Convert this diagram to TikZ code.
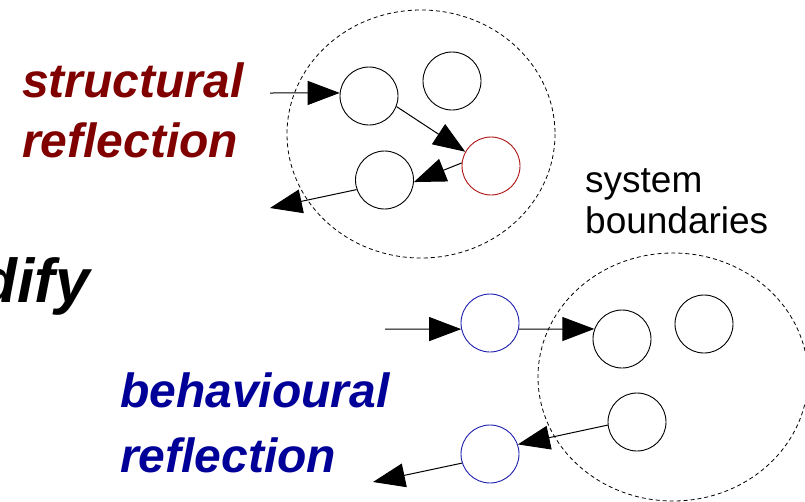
\documentclass[tikz,border=0pt]{standalone}
\usepackage{fontspec}
\setmainfont{Liberation Sans}
\usetikzlibrary{arrows.meta}
\definecolor{structred}{RGB}{128,0,0}
\definecolor{behavblue}{RGB}{0,0,153}
\definecolor{metared}{RGB}{175,20,20}
\definecolor{metablue}{RGB}{30,30,175}
\tikzset{
  obj/.style={circle,draw,line width=0.9pt,minimum size=58pt,inner sep=0pt},
  metaobj/.style={obj,draw=#1},
  link/.style={line width=1pt,-{Triangle[length=32pt,width=24pt]}},
  boundary/.style={line width=0.8pt,dash pattern=on 4pt off 3pt},
  label/.style={anchor=base west,inner sep=0pt,font=\fontsize{48}{58}\selectfont\bfseries\itshape},
  note/.style={anchor=base west,inner sep=0pt,font=\fontsize{37}{42}\selectfont},
}
\begin{document}
\begin{tikzpicture}[x=1pt,y=-1pt]
\useasboundingbox (0,0) rectangle (805,501);

% system boundaries
\draw[boundary] (421,134) ellipse [x radius=134, y radius=124];
\draw[boundary] (673,377) ellipse [x radius=135, y radius=124];

% structural reflection: objects
\node[obj] (A) at (369,96) {};
\node[obj] (B) at (452,81) {};
\node[metaobj=metared] (R) at (491,166) {};
\node[obj] (C) at (384.5,180) {};
\coordinate (inS) at (270,93);
\coordinate (outS) at (270,208);
\draw[link] (inS) -- (A.174);
\draw[link] (A.-21) -- (R.151);
\draw[link] (R.174) -- (C.-4);
\draw[link] (C.199) -- (outS);

% behavioural reflection: objects
\node[metaobj=metablue] (B1) at (490,323) {};
\node[metaobj=metablue] (B2) at (490,454) {};
\node[obj] (D) at (622,339) {};
\node[obj] (E) at (704,324) {};
\node[obj] (F) at (637,422) {};
\coordinate (inB) at (385,329);
\coordinate (outB) at (373,482);
\draw[link] (inB) -- (B1.192);
\draw[link] (B1.-12) -- (D.160);
\draw[link] (F.186) -- (B2.19);
\draw[link] (B2.198) -- (outB);

% labels
\node[label,text=structred] (s1) at (22,97) {structural};
\node[label,text=structred] (s2) at (22,157) {reflection};
\node[label,text=behavblue] (b1) at (120,407) {behavioural};
\node[label,text=behavblue] (b2) at (120,472) {reflection};
\node[anchor=base east,inner sep=0pt,font=\fontsize{62}{70}\selectfont\bfseries\itshape] (mod) at (90,302) {dify};
\node[note] (sys1) at (585,192) {system};
\node[note] (sys2) at (585,233) {boundaries};
\end{tikzpicture}
\end{document}
